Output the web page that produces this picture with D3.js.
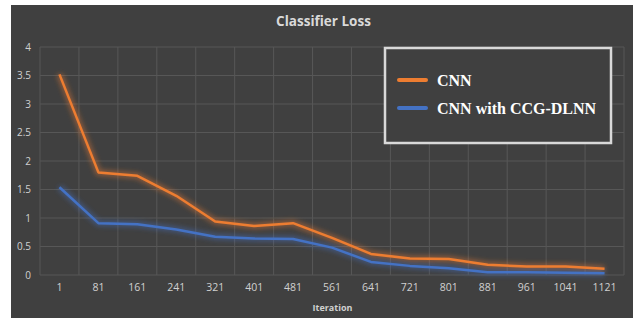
<!DOCTYPE html>
<html><head><meta charset="utf-8">
<script src="https://cdn.jsdelivr.net/npm/d3@7"></script>
<style>body{margin:0;background:#fff;}svg{display:block;}</style>
</head><body>
<svg id="c" width="636" height="321"></svg>
<script>
const categories = ["1","81","161","241","321","401","481","561","641","721","801","881","961","1041","1121"];
const cnn = [3.52,1.80,1.74,1.39,0.94,0.86,0.91,0.65,0.37,0.29,0.28,0.18,0.15,0.15,0.11];
const ccg = [1.54,0.91,0.89,0.80,0.67,0.64,0.63,0.48,0.23,0.16,0.12,0.05,0.05,0.04,0.03];
const yTicks = [0,0.5,1,1.5,2,2.5,3,3.5,4];
const seriesNames = ["CNN","CNN with CCG-DLNN"];
const colors = ["#ed7d31","#4472c4"];

const svg = d3.select("#c");
svg.append("rect").attr("x",11).attr("y",5).attr("width",622).attr("height",313).attr("fill","#404040");

const x = d3.scaleBand().domain(categories).range([40,624]);
const y = d3.scaleLinear().domain([0,4]).range([275,47]);

// grid
const g = svg.append("g");
g.selectAll(".hg").data(yTicks).join("line")
  .attr("x1",40).attr("x2",624).attr("y1",d=>y(d)).attr("y2",d=>y(d))
  .attr("stroke","#575757").attr("stroke-width",1);
g.selectAll(".vg").data(categories.concat(["__end"])).join("line")
  .attr("x1",(d,i)=> i<categories.length ? x(d) : x.range()[1])
  .attr("x2",(d,i)=> i<categories.length ? x(d) : x.range()[1])
  .attr("y1",47).attr("y2",275)
  .attr("stroke","#575757").attr("stroke-width",1);

// axes labels
const yAxis = d3.axisLeft(y).tickValues(yTicks).tickSize(0).tickPadding(0).tickFormat(d3.format(""));
const ya = svg.append("g").attr("transform","translate(31,0)").call(yAxis);
ya.select(".domain").remove();
ya.selectAll("text").attr("fill","#d0d0d0").attr("font-family","'Open Sans',sans-serif").attr("font-size",10);

const xAxis = d3.axisBottom(x).tickSize(0).tickPadding(0);
const xa = svg.append("g").attr("transform","translate(0,284)").call(xAxis);
xa.select(".domain").remove();
xa.selectAll("text").attr("fill","#d0d0d0").attr("font-family","'Open Sans',sans-serif").attr("font-size",10.5);

// glow filter
const defs = svg.append("defs");
const f = defs.append("filter").attr("id","glow").attr("x","-20%").attr("y","-20%").attr("width","140%").attr("height","140%");
f.append("feGaussianBlur").attr("stdDeviation",2.5);

const line = d3.line().x((d,i)=>x(categories[i])+x.bandwidth()/2).y(d=>y(d));
[cnn,ccg].forEach((s,k)=>{
  svg.append("path").datum(s).attr("d",line).attr("fill","none")
    .attr("stroke",colors[k]).attr("stroke-width",6).attr("stroke-opacity",0.45)
    .attr("filter","url(#glow)");
});
[cnn,ccg].forEach((s,k)=>{
  svg.append("path").datum(s).attr("d",line).attr("fill","none")
    .attr("stroke",colors[k]).attr("stroke-width",2.5).attr("stroke-linejoin","round");
});

// title
svg.append("text").attr("x",323.5).attr("y",26).attr("text-anchor","middle")
  .attr("font-family","'Open Sans',sans-serif").attr("font-weight","bold").attr("font-size",13.5)
  .attr("fill","#d9d9d9").text("Classifier Loss");
svg.append("text").attr("x",332.5).attr("y",311).attr("text-anchor","middle")
  .attr("font-family","'Open Sans',sans-serif").attr("font-weight","bold").attr("font-size",9)
  .attr("fill","#d0d0d0").text("Iteration");

// legend
svg.append("rect").attr("x",385).attr("y",48).attr("width",226).attr("height",95)
  .attr("fill","#404040").attr("stroke","#d9d9d9").attr("stroke-width",2.5);
seriesNames.forEach((n,k)=>{
  const ly = 80 + k*28;
  svg.append("line").attr("x1",399).attr("x2",426).attr("y1",ly).attr("y2",ly)
    .attr("stroke",colors[k]).attr("stroke-width",4).attr("stroke-linecap","round");
  svg.append("text").attr("x",437).attr("y",ly+5.5)
    .attr("font-family","'Liberation Serif',serif").attr("font-weight","bold").attr("font-size",16)
    .attr("fill","#ffffff").text(n);
});
</script>
</body></html>
